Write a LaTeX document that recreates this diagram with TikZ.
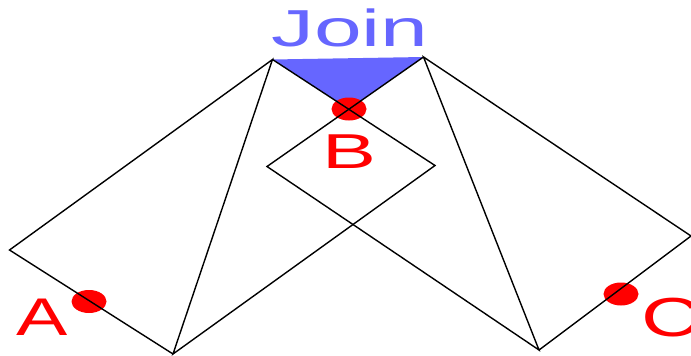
\documentclass[tikz,border=0pt]{standalone}
\usepackage{fontspec}
\setmainfont{Liberation Sans}
\usetikzlibrary{shapes.geometric}
\definecolor{joinblue}{HTML}{6666FF}
\definecolor{dotred}{HTML}{FF0000}
\tikzset{
  edge/.style={draw=black, line width=1.4pt, line join=miter},
  dot/.style={ellipse, fill=dotred, draw=none, minimum width=35pt, minimum height=23pt, inner sep=0pt},
  lbl/.style={inner sep=0pt, anchor=base, text=dotred, font=\fontsize{53}{53}\selectfont},
}
\begin{document}
\begin{tikzpicture}[x=1pt,y=-1pt]
\useasboundingbox (0,0) rectangle (691,356);
% points
\coordinate (L) at (9.5,250);
\coordinate (TL) at (272.5,59.5);
\coordinate (TR) at (423.5,57);
\coordinate (BL) at (173,354);
\coordinate (BR) at (539,350);
\coordinate (R) at (691,236);
\coordinate (QL) at (267,166.5);
\coordinate (QR) at (435,165.5);
\coordinate (Bc) at (349,109);
% blue triangle
\fill[joinblue] (TL) -- (TR) -- (Bc) -- cycle;
% dots
\node[dot] (dotA) at (89,301.5) {};
\node[dot] (dotB) at (349,109) {};
\node[dot] (dotC) at (621,294) {};
% edges
\draw[edge] (BL) -- (L) -- (TL) -- (BL) -- (QR) -- (TL);
\draw[edge] (TR) -- (QL) -- (BR) -- (TR) -- (R) -- (BR);
% labels
\node[lbl, text=joinblue, font=\fontsize{52}{52}\selectfont] (join) at (350,46.5) {\scalebox{1.65}[1]{Join}};
\node[lbl] (labA) at (42.5,335) {\scalebox{1.45}[1]{A}};
\node[lbl, font=\fontsize{49}{49}\selectfont] (labB) at (349.7,168.3) {\scalebox{1.65}[1]{B}};
\node[lbl, font=\fontsize{55}{55}\selectfont, anchor=base west] (labC) at (641,336.5) {\scalebox{1.5}[1]{C}};
\end{tikzpicture}
\end{document}
